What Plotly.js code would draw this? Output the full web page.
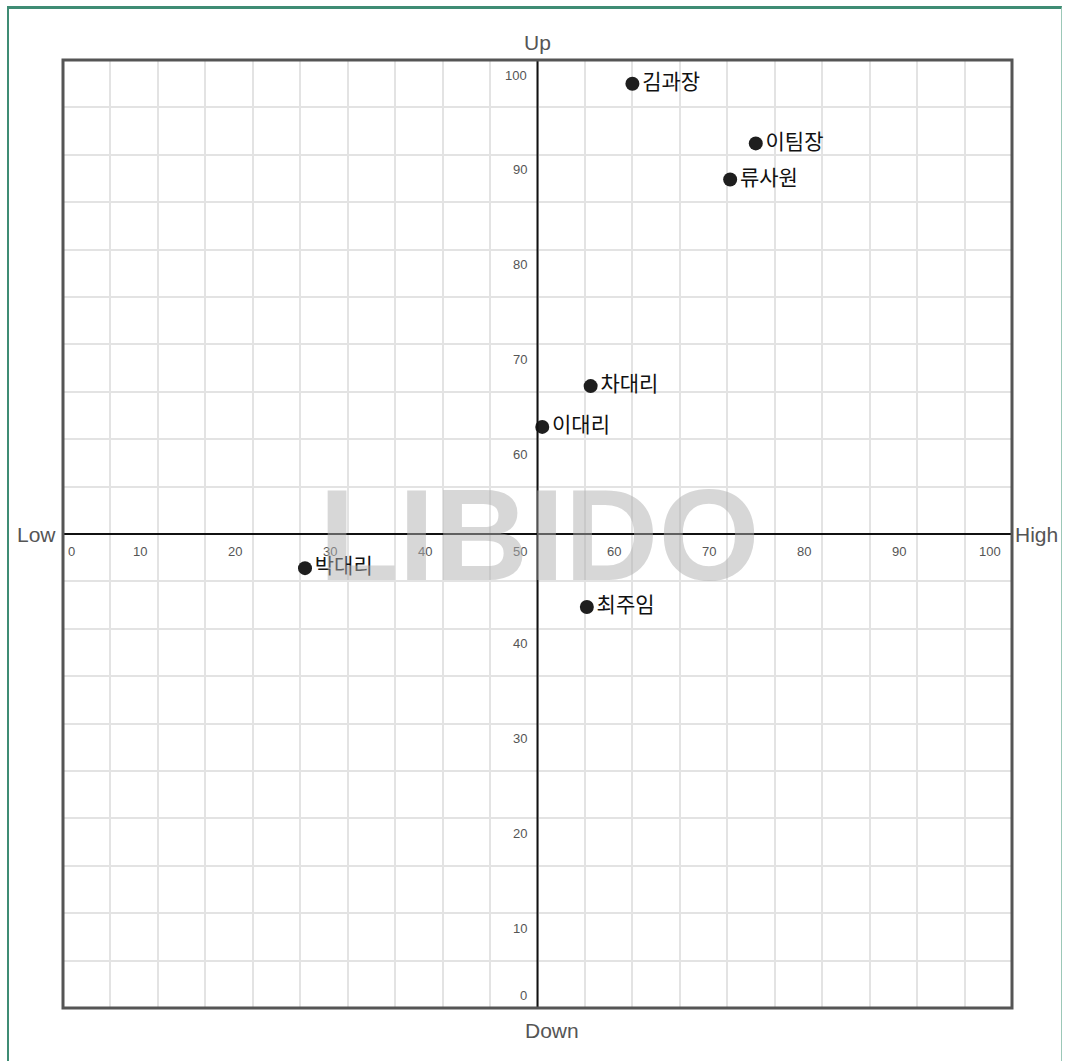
<!DOCTYPE html>
<html>
<head>
<meta charset="utf-8">
<script src="https://cdn.plot.ly/plotly-3.0.1.min.js"></script>
<style>
html,body{margin:0;padding:0;background:#fff;overflow:hidden;}
#frame{position:absolute;left:7px;top:6px;width:1055px;height:1100px;border-top:3px solid #3f8c74;border-left:2px solid #3f8c74;border-right:1px solid #9cc8b8;box-sizing:border-box;}
#chart{position:absolute;left:0;top:0;width:1067px;height:1061px;}
</style>
</head>
<body>
<div id="frame"></div>
<div id="chart"></div>
<script>
// Data
const names = ["김과장", "이팀장", "류사원", "차대리", "이대리", "박대리", "최주임"];
const xValues = [60, 73, 70.3, 55.6, 50.5, 25.5, 55.2];
const yValues = [97.5, 91.2, 87.4, 65.6, 61.3, 46.4, 42.3];
const xTickValues = [0, 10, 20, 30, 40, 50, 60, 70, 80, 90, 100];
const yTickValues = [0, 10, 20, 30, 40, 60, 70, 80, 90, 100];
const axisTitles = {top: "Up", bottom: "Down", left: "Low", right: "High"};
const watermark = "LIBIDO";

const tickFont = {family: "Liberation Sans, Arial, sans-serif", size: 13, color: "#555"};
const titleFont = {family: "Liberation Sans, Arial, sans-serif", size: 21, color: "#555"};

const annotations = [];
xTickValues.forEach(v => {
  annotations.push({
    x: v, y: 50, xref: "x", yref: "y", text: String(v), showarrow: false,
    xanchor: v === 0 ? "left" : "right", yanchor: "middle",
    xshift: v === 0 ? 3 : -9, yshift: -17, font: tickFont
  });
});
yTickValues.forEach(v => {
  annotations.push({
    x: 50, y: v, xref: "x", yref: "y", text: String(v), showarrow: false,
    xanchor: "right", yanchor: "middle",
    xshift: -9, yshift: v === 0 ? 13 : -15, font: tickFont
  });
});
annotations.push({x: 50, y: 100, xref: "x", yref: "y", text: axisTitles.top, showarrow: false, xanchor: "center", yanchor: "middle", yshift: 18, font: titleFont});
annotations.push({x: 51.5, y: 0, xref: "x", yref: "y", text: axisTitles.bottom, showarrow: false, xanchor: "center", yanchor: "middle", yshift: -22, font: titleFont});
annotations.push({x: 0, y: 50, xref: "x", yref: "y", text: axisTitles.left, showarrow: false, xanchor: "right", yanchor: "middle", xshift: -5, yshift: 0, font: titleFont});
annotations.push({x: 100, y: 50, xref: "x", yref: "y", text: axisTitles.right, showarrow: false, xanchor: "left", yanchor: "middle", xshift: 1, yshift: 0, font: titleFont});
annotations.push({x: 50, y: 50, xref: "x", yref: "y", text: "<b>" + watermark + "</b>", showarrow: false, xanchor: "center", yanchor: "middle", xshift: 2, yshift: -1,
  font: {family: "Liberation Sans, Arial, sans-serif", size: 130, color: "rgba(175,175,175,0.5)"}});

const trace = {
  type: "scatter", mode: "markers+text",
  x: xValues, y: yValues, text: names,
  textposition: "middle right",
  marker: {size: 14, color: "#1e1e1e"},
  textfont: {family: "Noto Sans CJK KR, sans-serif", size: 21, color: "#111"},
  cliponaxis: false, hoverinfo: "skip"
};

const layout = {
  width: 1067, height: 1061,
  margin: {l: 63, r: 55, t: 60, b: 53},
  paper_bgcolor: "rgba(0,0,0,0)", plot_bgcolor: "rgba(0,0,0,0)",
  showlegend: false,
  xaxis: {range: [0, 100], dtick: 5, tick0: 0, showgrid: true, gridcolor: "#e3e3e3", gridwidth: 2,
    zeroline: false, showticklabels: false, ticks: "", showline: false, fixedrange: true},
  yaxis: {range: [0, 100], dtick: 5, tick0: 0, showgrid: true, gridcolor: "#e3e3e3", gridwidth: 2,
    zeroline: false, showticklabels: false, ticks: "", showline: false, fixedrange: true},
  shapes: [
    {type: "line", xref: "x", yref: "paper", x0: 50, x1: 50, y0: 0, y1: 1, line: {color: "#111", width: 2}, layer: "above"},
    {type: "line", xref: "paper", yref: "y", x0: 0, x1: 1, y0: 50, y1: 50, line: {color: "#111", width: 2}, layer: "above"},
    {type: "rect", xref: "paper", yref: "paper", x0: 0, x1: 1, y0: 0, y1: 1, line: {color: "#555", width: 3}, layer: "above"}
  ],
  annotations: annotations
};

Plotly.newPlot("chart", [trace], layout, {staticPlot: true, displayModeBar: false});
</script>
</body>
</html>
